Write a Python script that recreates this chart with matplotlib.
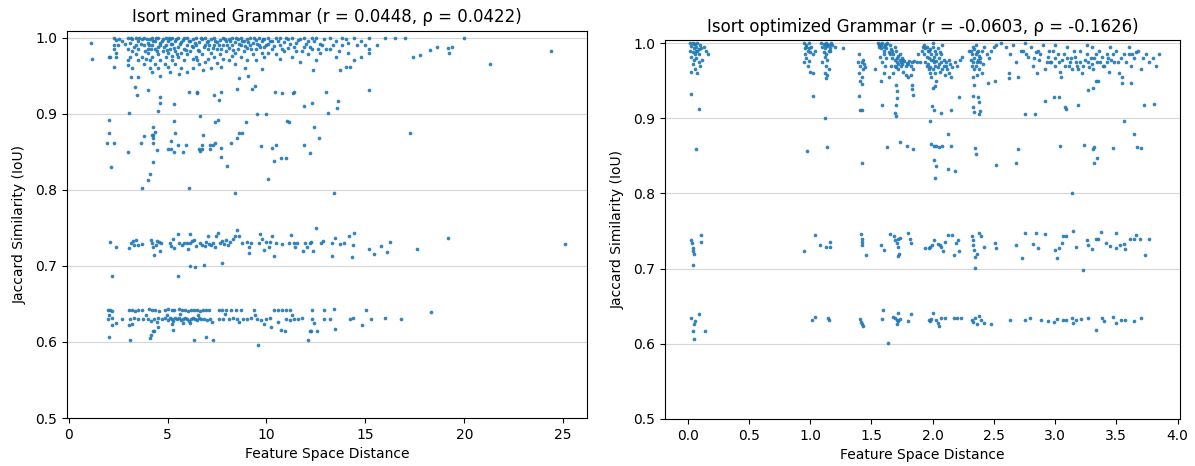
import numpy as np
import matplotlib
matplotlib.use("Agg")
import matplotlib.pyplot as plt

# ---- mined grammar: (feature distance, jaccard) ----
mined_top = [
    (1.14, .993), (1.2, .972), (2.06, .975), (2.1, .975),
    (2.3, 1.0), (2.3, .99), (2.3, .985), (2.4, .997), (2.4, .98), (2.4, .975),
    (2.5, .99), (2.7, .995), (3.0, 1.0), (3.0, .985), (3.0, .97),
    (3.1, .993), (3.1, .975), (3.2, .998), (3.2, .982), (3.2, .96),
    (3.4, 1.0), (3.4, .99), (3.4, .978), (3.5, .995), (3.5, .985), (3.5, .97),
    (3.7, .998), (3.7, .975), (3.8, 1.0), (3.8, .99), (3.8, .965),
    (4.0, .993), (4.0, .985), (4.0, .98), (4.1, .998), (4.1, .97), (4.1, .96),
    (4.2, 1.0), (4.2, .99), (4.2, .975), (4.2, .955),
    (4.35, .995), (4.35, .985), (4.35, .965),
    (4.5, 1.0), (4.5, .988), (4.5, .978), (4.5, .96),
    (4.6, .993), (4.6, .97), (4.6, .95), (4.75, .998), (4.75, .983),
    (4.9, 1.0), (4.9, .99), (4.9, .975), (5.0, .995), (5.0, .98), (5.0, .962),
    (5.1, .998), (5.1, .985), (5.1, .955), (5.25, 1.0), (5.25, .992), (5.25, .97),
    (5.4, .996), (5.4, .982), (5.4, .965), (5.55, 1.0), (5.55, .988), (5.55, .975),
    (5.7, .994), (5.7, .98), (5.7, .96), (5.85, .999), (5.85, .985), (5.85, .97),
    (6.0, 1.0), (6.0, .99), (6.0, .978), (6.0, .955), (6.15, .995), (6.15, .982),
    (6.3, .998), (6.3, .987), (6.3, .972), (6.3, .96),
    (6.45, 1.0), (6.45, .99), (6.45, .975), (6.6, .994), (6.6, .983), (6.6, .965),
    (6.75, .998), (6.75, .978), (6.9, 1.0), (6.9, .99), (6.9, .968),
    (7.05, .995), (7.05, .985), (7.05, .972), (7.2, .998), (7.2, .98), (7.2, .96),
    (7.35, 1.0), (7.35, .99), (7.35, .975), (7.5, .994), (7.5, .985), (7.5, .966),
    (7.65, .997), (7.65, .978), (7.8, 1.0), (7.8, .99), (7.8, .972),
    (7.95, .995), (7.95, .982), (8.1, .998), (8.1, .986), (8.1, .97),
    (8.25, 1.0), (8.25, .99), (8.25, .976), (8.4, .994), (8.4, .98), (8.4, .965),
    (8.55, .998), (8.55, .985), (8.7, 1.0), (8.7, .99), (8.7, .975),
    (8.85, .995), (8.85, .982), (9.0, .998), (9.0, .986), (9.0, .97),
    (9.15, 1.0), (9.15, .99), (9.3, .993), (9.3, .978),
    (9.45, .997), (9.45, .985), (9.45, .97), (9.6, 1.0), (9.6, .99),
    (9.75, .995), (9.75, .98), (9.9, .998), (9.9, .987), (9.9, .975),
    (10.1, 1.0), (10.1, .992), (10.1, .98), (10.3, .996), (10.3, .985),
    (10.5, .999), (10.5, .978), (10.7, 1.0), (10.7, .99), (10.7, .972),
    (10.9, .994), (10.9, .982), (11.1, .998), (11.1, .986), (11.3, 1.0), (11.3, .975),
    (11.5, .993), (11.5, .982), (11.7, .998), (11.7, .968), (11.9, 1.0), (11.9, .988),
    (12.1, .995), (12.1, .978), (12.3, .999), (12.3, .985), (12.5, 1.0), (12.5, .97),
    (12.7, .992), (12.7, .98), (12.9, .998), (13.2, 1.0), (13.2, .985),
    (13.5, .995), (13.5, .975), (13.8, 1.0), (13.8, .99), (14.1, .993), (14.1, .98),
    (14.4, 1.0), (14.4, .97), (14.8, .996), (14.8, .975), (15.2, 1.0), (15.2, .985),
    (15.19, .98), (15.6, .99), (16.0, 1.0), (16.5, 1.0), (17.0, 1.0),
    (17.41, .975), (17.78, .977), (18.25, .984), (18.63, .988), (19.17, .986),
    (19.25, .98), (19.37, .988), (19.96, 1.0), (21.3, .965), (24.4, .982),
    (2.31, .962), (3.02, .964), (3.16, .948), (3.5, .948), (3.33, .935), (3.44, .924),
    (4.03, .931), (9.75, .959), (12.37, .957), (13.7, .957), (14.02, .961), (14.22, .962),
    (9.06, .95), (8.59, .947),
]

# the crowded strip just under 1.0
mined_dense = [
    (2.55, .998), (2.85, .992), (3.15, .999), (3.3, .987), (3.55, 1.0), (3.65, .992),
    (3.85, .983), (3.95, .998), (4.05, .99), (4.15, .985), (4.28, .995), (4.42, .999),
    (4.48, .982), (4.62, .99), (4.7, .996), (4.82, .988), (4.95, .984), (5.05, .999),
    (5.15, .992), (5.32, .986), (5.45, .998), (5.5, .979), (5.62, .992), (5.78, .997),
    (5.92, .984), (6.08, .996), (6.22, .989), (6.38, .993), (6.52, .984), (6.68, .999),
    (6.82, .988), (6.98, .994), (7.12, .99), (7.28, .986), (7.42, .996), (7.58, .99),
    (7.72, .985), (7.88, .998), (8.02, .99), (8.18, .995), (8.32, .984), (8.48, .999),
    (8.62, .991), (8.78, .996), (8.92, .989), (9.08, .994), (9.22, .985), (9.38, .999),
    (9.52, .992), (9.68, .987), (9.82, .998), (10.0, .99), (10.2, .996), (10.4, .989),
    (10.6, .995), (10.8, .985), (11.0, .999), (11.2, .992), (11.4, .988), (11.6, .997),
    (11.8, .983), (12.0, .992), (12.2, .988), (12.4, .995), (12.6, .985), (12.8, .99),
    (13.0, .985), (13.35, .99), (13.65, .982), (14.0, .998), (14.6, .99), (15.0, .99),
    (5.2, .976), (6.5, .97), (7.7, .962), (8.9, .96), (4.85, .965), (3.9, .972),
    (6.8, .958), (5.6, .952),
]

mined_mid = [
    (3.07, .901), (4.63, .922), (4.63, .914), (4.51, .903), (5.32, .913),
    (6.08, .928), (6.48, .929), (6.48, .927), (6.63, .897), (7.36, .924), (7.6, .918),
    (7.68, .929), (8.49, .932), (9.25, .932), (9.43, .936), (9.53, .899), (9.97, .899),
    (10.44, .928), (10.76, .927), (11.34, .927), (11.41, .929), (11.88, .91), (12.32, .914),
    (13.01, .928), (13.11, .901), (13.58, .908), (13.63, .917), (15.19, .931), (17.24, .874),
    (2.06, .892), (2.06, .875), (1.94, .861), (2.28, .861), (2.16, .83), (3.02, .85),
    (3.66, .861), (3.82, .871), (4.12, .821), (4.02, .813), (3.7, .802),
    (4.19, .872), (4.25, .872), (4.29, .883), (4.37, .876), (4.29, .868), (4.29, .861),
    (4.46, .852), (4.29, .837), (5.32, .89), (5.4, .874), (5.18, .864),
    (5.01, .853), (5.18, .853), (5.35, .85), (5.55, .859), (5.94, .859), (5.79, .849),
    (6.08, .802), (6.58, .853), (6.66, .851), (6.76, .853), (6.73, .859), (6.79, .872),
    (7.17, .853), (7.17, .859), (7.3, .859), (7.42, .861), (7.42, .889), (7.53, .892),
    (7.7, .855), (7.7, .843), (8.0, .831), (8.22, .861), (8.49, .868), (8.62, .874),
    (8.78, .874), (8.96, .889), (8.39, .796), (9.7, .858), (10.07, .814),
    (10.29, .855), (10.46, .859), (10.4, .838), (10.75, .842), (10.97, .842),
    (11.04, .891), (11.15, .889), (11.88, .859), (12.2, .848), (12.42, .882),
    (12.67, .868), (13.42, .796),
]

mined_band73 = [
    (2.10, .731), (2.38, .725), (3.07, .723), (3.16, .730), (3.24, .733), (3.31, .728),
    (3.41, .734), (3.49, .728), (3.71, .729), (4.14, .734), (4.20, .730), (4.29, .725),
    (4.32, .714), (4.42, .728), (4.56, .731), (4.62, .719), (4.68, .730), (5.13, .730),
    (5.18, .726), (5.35, .723), (5.52, .742), (5.60, .730), (5.84, .730), (5.97, .730),
    (6.02, .722), (6.14, .742), (6.14, .730), (6.24, .733), (6.45, .726), (6.62, .730),
    (6.73, .728), (6.87, .726), (7.05, .739), (7.09, .729), (7.32, .730), (7.39, .725),
    (7.46, .739), (7.53, .743), (7.63, .730), (7.76, .732), (7.83, .729), (7.95, .734),
    (8.05, .728), (8.17, .731), (8.30, .735), (8.42, .739), (8.51, .747), (8.59, .739),
    (8.76, .730), (9.01, .731), (9.10, .725), (9.13, .717), (9.21, .730), (9.62, .730),
    (9.69, .742), (9.77, .735), (9.86, .721), (9.99, .731), (10.11, .725), (10.19, .731),
    (10.29, .739), (10.36, .713), (10.50, .730), (10.78, .729), (11.12, .730),
    (11.24, .741), (11.37, .730), (11.46, .725), (11.54, .730), (11.85, .719),
    (11.96, .730), (12.05, .725), (12.18, .730), (12.25, .731), (12.35, .719),
    (12.50, .750), (12.77, .730), (12.86, .733), (13.31, .730), (13.33, .713),
    (13.46, .737), (13.73, .729), (13.94, .730), (14.19, .739), (14.32, .712),
    (14.38, .728), (14.44, .743), (15.17, .722), (15.42, .715), (15.81, .726),
    (16.10, .718), (16.23, .731), (17.6, .722), (19.15, .736), (25.07, .729),
    (6.14, .700), (6.40, .698), (6.85, .701), (7.75, .704), (2.21, .687), (5.52, .686),
    (4.45, .733), (5.3, .735), (5.75, .727), (6.35, .734), (6.95, .731), (7.2, .727),
]

mined_band63 = [
    (2.0, .642), (2.1, .642), (2.2, .641), (3.05, .642), (3.2, .642), (3.35, .641),
    (3.5, .642), (3.7, .642), (4.05, .643), (4.2, .642), (4.35, .642), (4.55, .641),
    (4.85, .642), (5.0, .643), (5.2, .642), (5.35, .642), (5.6, .643), (5.75, .642),
    (5.9, .642), (6.05, .641), (6.2, .642), (6.35, .642), (6.5, .642), (6.65, .641),
    (6.8, .642), (6.95, .642), (7.1, .642), (7.6, .642), (7.75, .642), (7.95, .642),
    (8.2, .642), (8.45, .642), (8.7, .642), (9.35, .642), (10.4, .642), (10.6, .642),
    (10.8, .642), (11.0, .642), (11.2, .642), (12.3, .642), (12.9, .642), (13.4, .643),
    (15.05, .642), (18.3, .639),
    (2.0, .630), (2.2, .632), (2.7, .630), (3.1, .630), (3.3, .631), (3.5, .630),
    (3.75, .630), (4.0, .630), (4.15, .628), (4.3, .630), (4.5, .631), (4.7, .630),
    (4.85, .631), (5.0, .629), (5.1, .632), (5.2, .630), (5.3, .628), (5.4, .631),
    (5.5, .630), (5.6, .632), (5.7, .629), (5.8, .630), (5.9, .631), (6.0, .630),
    (6.1, .628), (6.2, .630), (6.3, .631), (6.4, .630), (6.5, .629), (6.6, .631),
    (6.7, .630), (6.85, .630), (7.0, .629), (7.15, .630), (7.6, .630), (7.8, .630),
    (8.1, .630), (8.3, .631), (8.5, .630), (8.8, .630), (9.0, .630), (9.2, .631),
    (9.5, .630), (9.7, .629), (10.0, .630), (10.2, .631), (11.0, .630), (11.2, .629),
    (11.4, .630), (11.6, .630), (11.8, .631), (12.3, .630), (12.9, .630), (13.2, .630),
    (14.2, .630), (14.35, .631), (15.3, .630), (16.0, .631), (16.8, .630),
    (2.05, .636), (2.4, .625), (3.2, .624), (3.9, .636), (4.45, .626), (4.95, .636),
    (5.25, .624), (5.65, .637), (6.15, .625), (6.55, .636), (7.25, .626), (7.9, .637),
    (8.6, .626), (9.4, .636), (9.85, .624), (10.6, .626), (11.3, .636), (12.4, .625),
    (2.02, .607), (3.12, .602), (4.09, .605), (4.15, .609), (4.24, .614), (4.34, .614),
    (6.36, .602), (6.95, .607), (7.32, .603), (9.55, .596), (12.1, .602), (12.18, .614),
    (12.27, .615), (12.55, .614), (13.45, .617), (10.72, .616), (10.95, .614),
    (14.83, .622), (5.3, .616), (2.21, .622), (3.07, .622), (4.54, .62), (5.8, .625),
    (10.24, .62),
]

# ---- optimized grammar ----
opt_top = [
    (0.02, 1.0), (0.04, 1.0), (0.06, .999), (0.08, 1.0), (0.1, .998), (0.03, .996),
    (0.05, .994), (0.07, .995), (0.09, .992), (0.02, .99), (0.04, .988), (0.06, .986),
    (0.08, .99), (0.11, .993), (0.13, .995), (0.15, .99), (0.03, .982), (0.05, .978),
    (0.07, .98), (0.09, .975), (0.04, .972), (0.06, .965), (0.03, .962), (0.08, .96),
    (0.12, .978), (0.17, .986), (0.1, .97),
    (0.95, 1.0), (0.97, .998), (0.99, 1.0), (1.01, .995), (0.96, .993), (0.98, .99),
    (1.0, .988), (1.02, .985), (0.97, .98), (0.99, .976), (0.98, .97), (1.0, .962),
    (1.02, .96), (0.96, .985), (1.04, .99), (0.95, .975),
    (1.09, 1.0), (1.11, .999), (1.13, 1.0), (1.15, .998), (1.17, 1.0), (1.1, .995),
    (1.12, .993), (1.14, .996), (1.16, .994), (1.18, .997), (1.2, .995), (1.11, .988),
    (1.13, .985), (1.15, .99), (1.12, .982), (1.14, .978), (1.1, .975), (1.13, .97),
    (1.15, .965), (1.12, .96), (1.14, .957), (1.13, .953), (1.27, .993),
    (1.4, .985), (1.42, .975), (1.41, .97), (1.43, .965), (1.4, .96), (1.42, .955),
    (1.41, .95), (1.44, .972), (1.43, .978), (1.39, .975), (1.45, .968), (1.42, .945),
    (1.55, 1.0), (1.57, .999), (1.59, 1.0), (1.61, .998), (1.63, 1.0), (1.65, .997),
    (1.56, .995), (1.58, .993), (1.6, .99), (1.62, .994), (1.64, .988), (1.66, .992),
    (1.68, .985), (1.7, .99), (1.72, .983), (1.67, .98), (1.69, .977), (1.71, .975),
    (1.73, .978), (1.75, .972), (1.77, .976), (1.79, .974), (1.81, .976), (1.83, .975),
    (1.85, .976), (1.7, .968), (1.72, .965), (1.74, .97), (1.76, .962), (1.68, .96),
    (1.78, .958), (1.8, .955), (1.82, .958), (1.84, .965), (1.57, .982), (1.59, .975),
    (1.61, .97), (1.6, .96), (1.58, .95), (1.64, .955), (1.66, .97), (1.73, .985),
    (1.75, .98), (1.87, .975), (1.69, .995), (1.53, .965),
    (1.92, .995), (1.94, .993), (1.96, .99), (1.98, .992), (2.0, .995), (2.02, .99),
    (2.04, .993), (2.06, .988), (1.93, .985), (1.95, .982), (1.97, .98), (1.99, .978),
    (2.01, .982), (2.03, .976), (2.05, .98), (2.07, .975), (2.09, .978), (2.11, .97),
    (1.96, .972), (1.98, .968), (2.0, .965), (2.02, .96), (2.04, .968), (2.06, .962),
    (2.08, .965), (2.1, .958), (2.12, .965), (2.14, .972), (2.16, .968), (2.18, .975),
    (2.2, .97), (2.22, .978), (2.24, .982), (1.94, .975), (1.99, .955), (2.03, .95),
    (2.13, .96), (2.0, 1.0), (2.08, .998), (1.88, .985), (1.9, .975), (2.15, .955),
    (2.3, .99), (2.32, .985), (2.34, .992), (2.36, .988), (2.38, .983), (2.4, .99),
    (2.42, .995), (2.31, .978), (2.33, .975), (2.35, .97), (2.37, .978), (2.39, .98),
    (2.34, .965), (2.36, .958), (2.38, .965), (2.41, .972), (2.44, .985), (2.46, .98),
    (2.48, .99), (2.5, .995), (2.52, .998), (2.35, .998), (2.33, .955), (2.4, .96),
    (2.56, 1.0), (2.6, .995), (2.63, .985), (2.66, .998), (2.68, .975), (2.72, .99),
    (2.75, 1.0), (2.78, .982), (2.8, .995), (2.82, .97), (2.84, .988), (2.87, .978),
    (2.9, .998), (2.92, .965), (2.94, .982), (2.96, .975), (2.98, .99), (3.0, .97),
    (3.02, .985), (3.04, .962), (3.06, .978), (3.08, .97), (3.1, .995), (3.12, .975),
    (3.14, .965), (3.16, .982), (3.18, .97), (3.2, .99), (3.22, .96), (3.24, .978),
    (3.26, .985), (3.28, .968), (3.3, .995), (3.32, .98), (3.34, .975), (3.36, .99),
    (3.38, .982), (3.4, .97), (3.42, .985), (3.44, .962), (3.46, .978), (3.48, .975),
    (3.5, .99), (3.52, .96), (3.54, .98), (3.58, .975), (3.6, .985), (3.62, .97),
    (3.64, .98), (3.66, .988), (3.68, .99), (3.7, .965), (3.74, .985), (3.77, .975),
    (3.8, .98), (3.82, .97), (3.85, .985), (2.62, .96), (2.7, .955), (2.85, .96),
    (3.05, .955), (3.35, .95), (3.55, .955), (2.74, .99), (2.88, .985), (3.0, .998),
    (3.15, .99), (3.26, .998), (3.45, .995), (3.6, .995), (2.97, .975), (3.1, .98),
    (3.2, .975), (3.3, .972), (3.42, .975),
]

opt_dense = [
    (1.56, .998), (1.6, .985), (1.62, .98), (1.65, .985), (1.67, .99), (1.71, .98),
    (1.74, .975), (1.76, .978), (1.78, .97), (1.8, .972), (1.82, .97), (1.69, .97),
    (1.72, .972), (1.58, .998), (1.6, .995), (1.62, .999),
    (1.91, .99), (1.93, .998), (1.95, .995), (1.97, .99), (1.99, .985), (2.01, .975),
    (2.03, .985), (2.05, .972), (2.07, .985), (1.95, .97), (1.97, .965), (2.09, .97),
    (2.11, .975), (2.13, .978), (2.0, .978), (2.02, .97), (1.98, .96),
    (2.31, .99), (2.33, .995), (2.35, .985), (2.37, .99), (2.39, .975), (2.32, .97),
    (2.36, .975), (2.34, .98),
    (3.0, .98), (3.03, .975), (3.07, .985), (3.11, .97), (3.13, .98), (3.17, .975),
    (3.19, .965), (3.23, .97), (3.27, .975), (3.29, .98), (3.31, .965), (3.33, .985),
    (3.37, .975), (3.39, .97), (3.43, .98), (3.47, .985), (3.51, .975), (3.56, .985),
    (3.63, .985), (3.72, .98), (2.83, .98), (2.86, .99), (2.76, .985), (2.93, .975),
    (2.95, .99),
    (0.97, .995), (0.99, .993), (1.12, .998), (1.14, .999), (1.16, .99),
    (0.05, .999), (0.07, .99), (0.09, .985),
]

opt_mid = [
    (0.028, .932), (0.089, .912), (0.072, .859), (1.023, .929), (1.122, .9),
    (0.973, .857), (1.137, .862), (1.4, .929), (1.405, .911), (1.423, .911), (1.423, .84),
    (1.589, .917), (1.70, .944), (1.705, .936), (1.71, .927), (1.70, .918), (1.695, .907),
    (1.70, .903), (1.627, .862), (1.735, .868), (1.793, .863), (1.843, .859),
    (1.83, .944), (1.835, .939), (1.84, .931),
    (1.977, .896), (1.997, .916), (2.012, .911), (2.065, .907), (1.99, .866),
    (2.01, .863), (2.03, .863), (2.05, .862), (2.08, .863), (2.012, .844), (2.027, .836),
    (2.018, .821), (2.129, .879), (2.152, .863), (2.123, .832), (2.181, .83),
    (2.147, .911), (2.214, .928), (2.02, .943), (2.0, .94),
    (2.342, .861), (2.357, .853), (2.517, .838), (2.33, .93), (2.33, .915), (2.34, .908),
    (2.37, .928), (2.38, .922), (2.39, .91), (2.38, .905), (2.508, .949), (2.34, .944),
    (2.683, .84), (2.697, .859), (2.756, .905), (2.835, .906), (2.917, .923),
    (2.99, .928), (3.03, .928), (3.08, .915), (3.09, .912), (3.04, .863), (3.136, .8),
    (3.186, .918), (3.238, .865), (3.31, .859), (3.32, .862), (3.345, .847),
    (3.319, .84), (3.27, .938), (3.31, .94), (3.33, .949), (3.47, .861), (3.565, .896),
    (3.646, .879), (3.67, .862), (3.70, .861), (3.728, .917), (3.81, .919),
    (3.62, .947), (3.55, .947), (2.45, .947), (2.62, .953),
]

opt_band73 = [
    (0.037, .734), (0.043, .727), (0.043, .723), (0.049, .72), (0.028, .738),
    (0.11, .745), (0.11, .736), (0.043, .705),
    (0.953, .724), (1.038, .745), (1.078, .732), (1.131, .729), (1.166, .735), (1.166, .729),
    (1.414, .746), (1.423, .74), (1.423, .736), (1.423, .732), (1.458, .718),
    (1.575, .732), (1.604, .725), (1.653, .746), (1.685, .743), (1.691, .738),
    (1.706, .734), (1.715, .729), (1.72, .74), (1.726, .72), (1.735, .741), (1.715, .717),
    (1.802, .747), (1.814, .739), (1.826, .734),
    (1.939, .727), (1.968, .728), (1.997, .732), (2.012, .738), (2.041, .733),
    (2.07, .729), (2.085, .723), (2.1, .736), (2.129, .745), (2.158, .745), (2.173, .718),
    (2.187, .734), (2.21, .738), (2.216, .723), (1.982, .729), (2.056, .732),
    (2.319, .743), (2.327, .738), (2.333, .732), (2.339, .725), (2.348, .716),
    (2.342, .701), (2.362, .72), (2.377, .747), (2.397, .743), (2.421, .729),
    (2.508, .734), (2.514, .727),
    (2.683, .732), (2.727, .714), (2.75, .747), (2.823, .733), (2.843, .748),
    (2.858, .728), (2.917, .746),
    (2.998, .725), (3.018, .714), (3.033, .727), (3.056, .734), (3.068, .743),
    (3.085, .743), (3.144, .75), (3.173, .729), (3.228, .698), (3.261, .738),
    (3.272, .732), (3.301, .726), (3.333, .74), (3.354, .74), (3.378, .749),
    (3.418, .734), (3.447, .73), (3.494, .748), (3.5, .727), (3.529, .732),
    (3.564, .733), (3.573, .726), (3.611, .739), (3.64, .739), (3.661, .745),
    (3.69, .74), (3.734, .718), (3.763, .74),
]

opt_band63 = [
    (0.028, .634), (0.092, .639), (0.051, .626), (0.043, .617), (0.049, .607),
    (0.145, .617), (0.057, .63),
    (1.011, .632), (1.043, .636), (1.146, .634), (1.151, .631),
    (1.405, .633), (1.414, .629), (1.423, .626), (1.429, .624),
    (1.584, .633), (1.595, .645), (1.676, .636), (1.691, .634), (1.706, .631),
    (1.706, .626), (1.715, .641), (1.72, .63), (1.732, .633), (1.802, .63),
    (1.822, .639), (1.638, .601),
    (1.968, .631), (1.988, .633), (2.006, .641), (2.027, .632), (2.041, .628),
    (2.05, .623), (2.07, .634), (2.1, .634), (2.173, .634), (2.202, .634),
    (2.231, .634), (1.982, .63),
    (2.319, .632), (2.333, .629), (2.348, .634), (2.362, .626), (2.377, .637),
    (2.391, .631), (2.421, .628), (2.479, .626),
    (2.634, .632), (2.75, .632), (2.794, .634), (2.881, .632), (2.94, .63),
    (2.99, .629), (3.018, .633),
    (3.062, .632), (3.091, .631), (3.135, .634), (3.149, .628), (3.173, .631),
    (3.208, .633), (3.266, .634), (3.333, .618), (3.383, .634), (3.398, .63),
    (3.471, .635), (3.494, .628), (3.538, .632), (3.573, .631), (3.646, .63),
    (3.704, .634),
]

panels = [
    ("Isort mined Grammar (r = 0.0448, ρ = 0.0422)",
     [mined_top, mined_dense, mined_mid, mined_band73, mined_band63]),
    ("Isort optimized Grammar (r = -0.0603, ρ = -0.1626)",
     [opt_top, opt_dense, opt_mid, opt_band73, opt_band63]),
]

fig = plt.figure(figsize=(11.95, 4.66), dpi=100)
ax_left = fig.add_axes([0.0561, 0.103, 0.4351, 0.831])
ax_right = fig.add_axes([0.5565, 0.101, 0.4310, 0.813])

for ax, (title, groups) in zip([ax_left, ax_right], panels):
    pts = np.array([p for g in groups for p in g])
    ax.scatter(pts[:, 0], pts[:, 1], s=7, color="#1f77b4", alpha=0.9, linewidths=0)
    ax.set_title(title, fontsize=12)
    ax.set_xlabel("Feature Space Distance", fontsize=10)
    ax.set_ylabel("Jaccard Similarity (IoU)", fontsize=10, labelpad=6)
    ax.set_yticks([0.5, 0.6, 0.7, 0.8, 0.9, 1.0])
    ax.grid(True, axis="y", color="#cccccc", alpha=0.8, linewidth=0.8)
    ax.set_axisbelow(True)

ax_left.set_xlim(-0.08, 26.2)
ax_left.set_ylim(0.5, 1.009)
ax_right.set_xlim(-0.185, 4.02)
ax_right.set_ylim(0.5, 1.004)

plt.savefig("out.png", dpi=100)
plt.close()
